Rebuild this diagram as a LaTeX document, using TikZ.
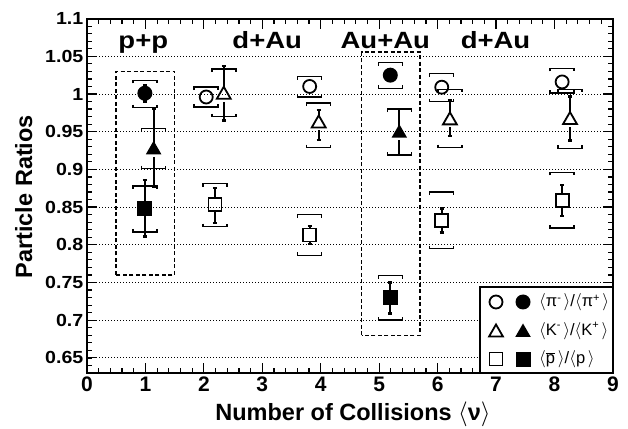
\documentclass[tikz,border=0pt]{standalone}
\usepackage{fontspec}
\setmainfont{Liberation Sans}
\newfontfamily\hbf[FakeStretch=1.12]{Liberation Sans}
\newfontfamily\hbt[FakeStretch=1.17]{Liberation Sans}
\usetikzlibrary{shapes.geometric}
\tikzset{
  gridline/.style={line width=0.9pt, black, dash pattern=on 1pt off 2pt},
  frame/.style={line width=2pt},
  tk/.style={line width=1.2pt},
  sysbr/.style={line width=1.5pt},
  ebar/.style={line width=2pt},
  ecap/.style={line width=2.5pt},
  boxdash/.style={line width=1.5pt, dash pattern=on 4pt off 2.5pt},
  ocirc/.style={circle, draw, line width=1.8pt, minimum size=13pt, inner sep=0pt},
  fcirc/.style={circle, fill, minimum size=15pt, inner sep=0pt},
  otri/.style={regular polygon, regular polygon sides=3, draw, line width=1.8pt, minimum size=16pt, inner sep=0pt},
  ftri/.style={regular polygon, regular polygon sides=3, fill, minimum size=18pt, inner sep=0pt},
  osq/.style={rectangle, draw, line width=1.8pt, minimum size=13pt, inner sep=0pt},
  fsq/.style={rectangle, fill, minimum size=15pt, inner sep=0pt},
  ylab/.style={anchor=east, inner sep=0pt, font=\hbf\bfseries\fontsize{17.5}{20}\selectfont},
  xlab/.style={anchor=north, inner sep=0pt, font=\bfseries\fontsize{21}{24}\selectfont},
  sysname/.style={anchor=base, inner sep=0pt, font=\hbt\bfseries\fontsize{23.5}{26}\selectfont},
  axtitle/.style={anchor=base, inner sep=0pt, font=\bfseries\fontsize{23.5}{26}\selectfont},
  legtext/.style={anchor=west, inner sep=0pt, font=\fontsize{16.5}{19}\selectfont}
}
% #1 x, #2 y, #3 err lo, #4 err hi, #5 sys lo, #6 sys hi, #7 marker style, #8 name
\newcommand\dpt[8]{%
  \draw[sysbr] ([xshift=-12pt,yshift=-3pt]#1,#6) -- ++(0pt,3pt) -- ++(24pt,0pt) -- ++(0pt,-3pt);
  \draw[sysbr] ([xshift=-12pt,yshift=3pt]#1,#5) -- ++(0pt,-3pt) -- ++(24pt,0pt) -- ++(0pt,3pt);
  \pgfmathtruncatemacro\hup{(#4-#2)>0.0105}%
  \ifnum\hup=1
    \draw[ebar] ([yshift=7pt]#1,#2) -- (#1,#4);
    \draw[ecap] ([xshift=-2pt]#1,#4) -- ([xshift=2pt]#1,#4);
  \fi
  \pgfmathtruncatemacro\hdn{(#2-#3)>0.0105}%
  \ifnum\hdn=1
    \draw[ebar] ([yshift=-7pt]#1,#2) -- (#1,#3);
    \draw[ecap] ([xshift=-2pt]#1,#3) -- ([xshift=2pt]#1,#3);
  \fi
  \node[#7] (#8) at (#1,#2) {};
}
\begin{document}
\begin{tikzpicture}[x=1pt,y=1pt]
\useasboundingbox (0,0) rectangle (628,428);
\fill[white] (0,0) rectangle (628,428);
\begin{scope}[shift={(87pt,-420pt)}, x=58.44pt, y=754pt]
  % grid
  \foreach \v in {0.65,0.70,0.75,0.80,0.85,0.90,0.95,1.00,1.05}
    \draw[gridline] (0,\v) -- (9,\v);
  % ticks
  \foreach \i in {0,...,9} {
    \draw[tk] (\i,0.63) -- ++(0pt,10pt);
    \draw[tk] (\i,1.1) -- ++(0pt,-10pt);
  }
  \foreach \i in {0,...,45} {
    \draw[tk] ({\i*0.2},0.63) -- ++(0pt,5pt);
    \draw[tk] ({\i*0.2},1.1) -- ++(0pt,-5pt);
  }
  \foreach \i in {13,...,22} {
    \draw[tk] (0,{\i*0.05}) -- ++(10pt,0pt);
    \draw[tk] (9,{\i*0.05}) -- ++(-10pt,0pt);
  }
  \foreach \i in {63,...,110} {
    \draw[tk] (0,{\i/100}) -- ++(5pt,0pt);
    \draw[tk] (9,{\i/100}) -- ++(-5pt,0pt);
  }
  % frame
  \draw[frame] (0,0.63) rectangle (9,1.1);
  % tick labels
  \foreach \v/\t in {1.1/1.1,1.05/1.05,1.0/1,0.95/0.95,0.9/0.9,0.85/0.85,0.8/0.8,0.75/0.75,0.7/0.7,0.65/0.65}
    \node[ylab] (yl\t) at ([xshift=-3.5pt]0,\v) {\t};
  \foreach \i in {0,...,9}
    \node[xlab] (xl\i) at ([yshift=-4pt]\i,0.63) {\i};
  % dashed boxes
  \draw[boxdash] (0.5,0.76) rectangle (1.5,1.03);
  \draw[boxdash] (4.7,0.68) rectangle (5.7,1.0555);
  % p+p
  \dpt{0.99}{1.001}{0.990}{1.012}{0.982}{1.018}{fcirc}{ppc}
  \dpt{1.14}{0.926}{0.877}{0.981}{0.901}{0.954}{ftri}{ppt}
  \dpt{0.99}{0.848}{0.811}{0.886}{0.817}{0.878}{fsq}{pps}
  % d+Au (1)
  \dpt{2.04}{0.996}{0.996}{0.996}{0.983}{1.009}{ocirc}{da1c}
  \dpt{2.34}{0.999}{0.965}{1.037}{0.970}{1.033}{otri}{da1t}
  \dpt{2.19}{0.853}{0.829}{0.875}{0.824}{0.881}{osq}{da1s}
  % d+Au (2)
  \dpt{3.81}{1.010}{1.010}{1.010}{0.996}{1.023}{ocirc}{da2c}
  \dpt{3.965}{0.961}{0.939}{0.979}{0.929}{0.988}{otri}{da2t}
  \dpt{3.81}{0.813}{0.801}{0.825}{0.786}{0.840}{osq}{da2s}
  % Au+Au
  \dpt{5.19}{1.025}{1.025}{1.025}{1.0075}{1.0415}{fcirc}{aac}
  \dpt{5.344}{0.948}{0.919}{0.980}{0.919}{0.980}{ftri}{aat}
  \dpt{5.19}{0.730}{0.709}{0.750}{0.700}{0.759}{fsq}{aas}
  % d+Au (3)
  \dpt{6.07}{1.009}{1.009}{1.009}{0.990}{1.027}{ocirc}{da3c}
  \dpt{6.21}{0.965}{0.944}{0.992}{0.929}{1.006}{otri}{da3t}
  \dpt{6.07}{0.832}{0.816}{0.848}{0.795}{0.870}{osq}{da3s}
  % d+Au (4)
  \dpt{8.13}{1.016}{1.016}{1.016}{1.001}{1.034}{ocirc}{da4c}
  \dpt{8.265}{0.9655}{0.938}{0.9965}{0.928}{1.006}{otri}{da4t}
  \dpt{8.13}{0.8585}{0.838}{0.879}{0.822}{0.896}{osq}{da4s}
\end{scope}
% system names
\node[sysname] (npp) at (143.3,379.7) {p+p};
\node[sysname] (nda1) at (267.2,379.7) {d+Au};
\node[sysname] (naa) at (385.3,379.7) {Au+Au};
\node[sysname] (nda2) at (495.5,379.7) {d+Au};
% axis titles
\node[axtitle, rotate=90] (ytitle) at (32,231.3) {Particle Ratios};
\node[axtitle] (xtitle) at (353,8) {Number of Collisions {\mdseries$\langle$}ν{\mdseries$\rangle$}};
% legend
\draw[line width=1.5pt, fill=white] (480,55) rectangle (613,141);
\node[ocirc] (lg1o) at (496,126) {};
\node[fcirc] (lg1f) at (523,126) {};
\node[legtext] (lg1t) at (539,126) {$\langle$π\raisebox{0.6ex}{\fontsize{11}{11}\selectfont -}\,$\rangle$/$\langle$π\raisebox{0.6ex}{\fontsize{11}{11}\selectfont +}\,$\rangle$};
\node[otri] (lg2o) at (496,95.5) {};
\node[ftri] (lg2f) at (523,95.5) {};
\node[legtext] (lg2t) at (539,97) {$\langle$K\raisebox{0.8ex}{\fontsize{11}{11}\selectfont -}\,$\rangle$/$\langle$K\raisebox{0.8ex}{\fontsize{11}{11}\selectfont +}\,$\rangle$};
\node[osq] (lg3o) at (496,69) {};
\node[fsq] (lg3f) at (523,69) {};
\node[legtext] (lg3t) at (539,69) {$\langle\overline{\mbox{p}}\,\rangle$/$\langle$p\,$\rangle$};
\end{tikzpicture}
\end{document}
